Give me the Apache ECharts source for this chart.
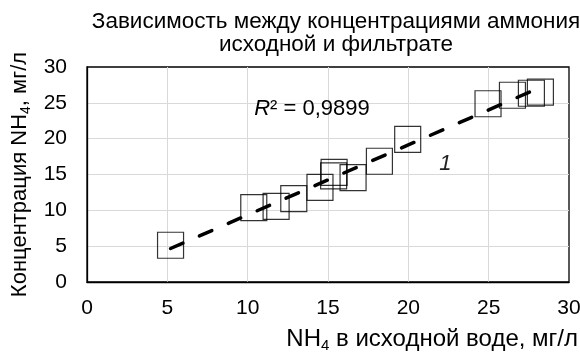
<!DOCTYPE html>
<html><head><meta charset="utf-8">
<script src="https://cdn.jsdelivr.net/npm/echarts@6/dist/echarts.min.js"></script>
<style>html,body{margin:0;padding:0;background:#fff}#c{width:580px;height:352px}</style>
</head><body><div id="c"></div>
<script>
// ---- data ----
const titleLines = ['Зависимость между концентрациями аммония', 'исходной и фильтрате'];
const xNameParts = ['NH', '4', ' в исходной воде, мг/л'];
const yNameParts = ['Концентрация NH', '4', ', мг/л'];
const xTicks = [0, 5, 10, 15, 20, 25, 30];
const yTicks = [0, 5, 10, 15, 20, 25, 30];
const nh4Source   = [5.2, 10.38, 11.77, 12.87, 14.5, 15.38, 15.35, 16.56, 18.2, 19.96, 24.96, 26.48, 27.66, 28.22];
const nh4Filtrate = [5.13, 10.39, 10.55, 11.62, 13.2, 15.3, 14.8, 14.57, 16.85, 19.9, 24.87, 26.06, 26.34, 26.5];
const r2Value = '0,9899';
const trendLabel = '1';

// ---- linear trend from data ----
const n = nh4Source.length;
const mx = nh4Source.reduce((a, b) => a + b, 0) / n;
const my = nh4Filtrate.reduce((a, b) => a + b, 0) / n;
let sxy = 0, sxx = 0;
for (let i = 0; i < n; i++) { sxy += (nh4Source[i] - mx) * (nh4Filtrate[i] - my); sxx += (nh4Source[i] - mx) ** 2; }
const slope = sxy / sxx, icpt = my - slope * mx;
const xMin = Math.min(...nh4Source), xMax = Math.max(...nh4Source);
const trend = [[xMin, icpt + slope * xMin], [xMax, icpt + slope * xMax]];
const points = nh4Source.map((x, i) => [x, nh4Filtrate[i]]);

const FF = '"Liberation Sans", Arial, sans-serif';
const richY = {
  a: { fontSize: 22, fontFamily: FF, color: '#000', lineHeight: 26 },
  s: { fontSize: 14, fontFamily: FF, color: '#000', lineHeight: 7, verticalAlign: 'bottom' }
};
const richX = {
  a: { fontSize: 24, fontFamily: FF, color: '#000', lineHeight: 28 },
  s: { fontSize: 15, fontFamily: FF, color: '#000', lineHeight: 7, verticalAlign: 'bottom' }
};

const chart = echarts.init(document.getElementById('c'), null, { renderer: 'canvas' });
chart.setOption({
  animation: false,
  backgroundColor: '#fff',
  title: {
    text: titleLines.join('\n'),
    left: 331, top: 5, textAlign: 'center',
    textStyle: { fontSize: 22.5, fontWeight: 'normal', color: '#000', fontFamily: FF, lineHeight: 23.5 }
  },
  grid: { left: 87, right: 11, top: 67, bottom: 70, show: true, borderColor: '#000', borderWidth: 1.3, backgroundColor: 'transparent', containLabel: false, outerBoundsMode: 'none' },
  xAxis: {
    type: 'value', min: xTicks[0], max: xTicks[xTicks.length - 1], interval: xTicks[1] - xTicks[0],
    axisLine: { show: true, lineStyle: { color: '#000', width: 1.3 } },
    axisTick: { show: false },
    axisLabel: { fontSize: 21, color: '#000', fontFamily: FF, margin: 16 },
    splitLine: { show: true, showMinLine: false, showMaxLine: false, lineStyle: { color: '#d9d9d9', width: 1 } },
    name: '{a|' + xNameParts[0] + '}{s|' + xNameParts[1] + '}{a|' + xNameParts[2] + '}',
    nameLocation: 'end', nameGap: 9,
    nameTextStyle: { align: 'right', verticalAlign: 'top', padding: [43, 0, 0, 0], rich: richX }
  },
  yAxis: {
    type: 'value', min: yTicks[0], max: yTicks[yTicks.length - 1], interval: yTicks[1] - yTicks[0],
    axisLine: { show: true, lineStyle: { color: '#000', width: 1.3 } },
    axisTick: { show: false },
    axisLabel: { fontSize: 21, color: '#000', fontFamily: FF, margin: 20 },
    splitLine: { show: true, showMinLine: false, showMaxLine: false, lineStyle: { color: '#d9d9d9', width: 1 } },
    name: '{a|' + yNameParts[0] + '}{s|' + yNameParts[1] + '}{a|' + yNameParts[2] + '}',
    nameLocation: 'middle', nameGap: 54,
    nameTextStyle: { rich: richY }
  },
  series: [
    {
      type: 'scatter', data: points, symbol: 'rect', symbolSize: 26, z: 2,
      itemStyle: { color: 'rgba(0,0,0,0)', borderColor: '#000', borderWidth: 1.2 },
      emphasis: { disabled: true }
    },
    {
      type: 'line', data: trend, showSymbol: false, symbol: 'none', z: 3, silent: true,
      lineStyle: { color: '#000', width: 3.5, type: [13.5, 18], cap: 'round' },
      emphasis: { disabled: true },
      markPoint: {
        symbol: 'circle', symbolSize: 0, silent: true,
        data: [
          { coord: [14.0, 24.1], label: { show: true, position: 'inside', formatter: '{i|R}{n|² = ' + r2Value + '}',
            rich: { i: { fontSize: 22, fontStyle: 'italic', color: '#000', fontFamily: FF }, n: { fontSize: 22, color: '#000', fontFamily: FF } } } },
          { coord: [22.3, 16.5], label: { show: true, position: 'inside', formatter: trendLabel, fontSize: 22, fontStyle: 'italic', color: '#222', fontFamily: FF } }
        ]
      }
    }
  ]
});
</script></body></html>
